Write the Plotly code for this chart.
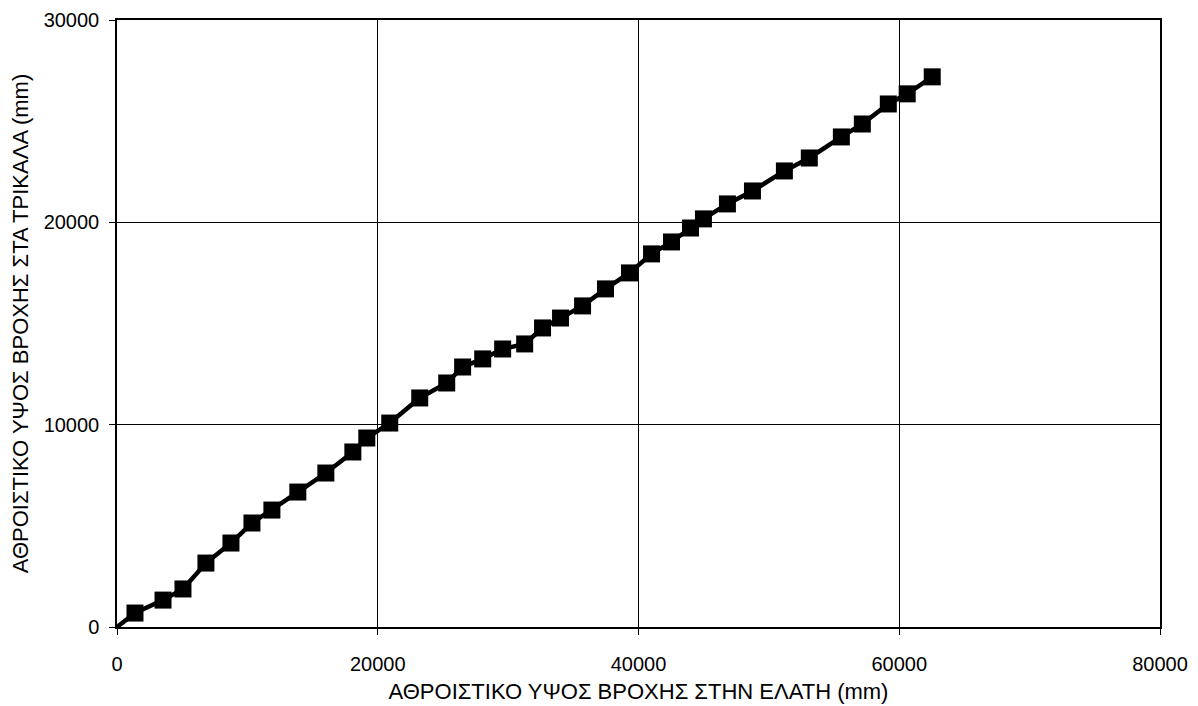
import plotly.graph_objects as go

# Cumulative rainfall depth (mm)
elati = [1380, 3530, 5060, 6820, 8740, 10350, 11880, 13870, 16020, 18090, 19160,
         20920, 23220, 25290, 26510, 28050, 29580, 31270, 32640, 34020, 35710,
         37470, 39310, 41000, 42530, 43990, 44980, 46820, 48740, 51190, 53100,
         55560, 57170, 59160, 60610, 62530]
trikala = [690, 1330, 1880, 3160, 4150, 5140, 5780, 6670, 7610, 8650, 9340,
           10080, 11320, 12060, 12850, 13250, 13740, 13990, 14780, 15270, 15870,
           16710, 17500, 18440, 19030, 19720, 20170, 20910, 21550, 22540, 23180,
           24220, 24860, 25850, 26350, 27190]

x_ticks = [0, 20000, 40000, 60000, 80000]
y_ticks = [0, 10000, 20000, 30000]

x_title = "ΑΘΡΟΙΣΤΙΚΟ ΥΨΟΣ ΒΡΟΧΗΣ ΣΤΗΝ ΕΛΑΤΗ (mm)"
y_title = "ΑΘΡΟΙΣΤΙΚΟ ΥΨΟΣ ΒΡΟΧΗΣ ΣΤΑ ΤΡΙΚΑΛΑ (mm)"

line_x = [0] + elati
line_y = [0] + trikala

fig = go.Figure()
fig.add_trace(go.Scatter(x=line_x, y=line_y, mode="lines",
                         line=dict(color="black", width=4.5), showlegend=False,
                         hoverinfo="skip"))
fig.add_trace(go.Scatter(x=elati, y=trikala, mode="markers",
                         marker=dict(symbol="square", size=17, color="black"),
                         showlegend=False))

font_family = "Liberation Sans, Arial, sans-serif"
axis_common = dict(showgrid=True, gridcolor="black", gridwidth=1,
                   showline=True, linecolor="black", linewidth=1.5, mirror=True,
                   ticks="outside", ticklen=6, tickcolor="black", zeroline=False,
                   automargin=False,
                   tickfont=dict(family=font_family, size=20, color="black"))

fig.update_xaxes(range=[0, 80000], tickvals=x_ticks, ticktext=[str(v) for v in x_ticks],
                 ticklabelstandoff=12,
                 title=dict(text=x_title, font=dict(family=font_family, size=22, color="black"),
                            standoff=10),
                 **axis_common)
fig.update_yaxes(range=[0, 30000], tickvals=y_ticks, ticktext=[str(v) for v in y_ticks],
                 ticklabelstandoff=6,
                 title=dict(text=y_title, font=dict(family=font_family, size=22, color="black"),
                            standoff=12),
                 **axis_common)

fig.update_layout(width=1198, height=706, plot_bgcolor="white", paper_bgcolor="white",
                  margin=dict(l=109, r=46, t=12, b=87),
                  font=dict(family=font_family, color="black"))

fig.write_html("out.html")
